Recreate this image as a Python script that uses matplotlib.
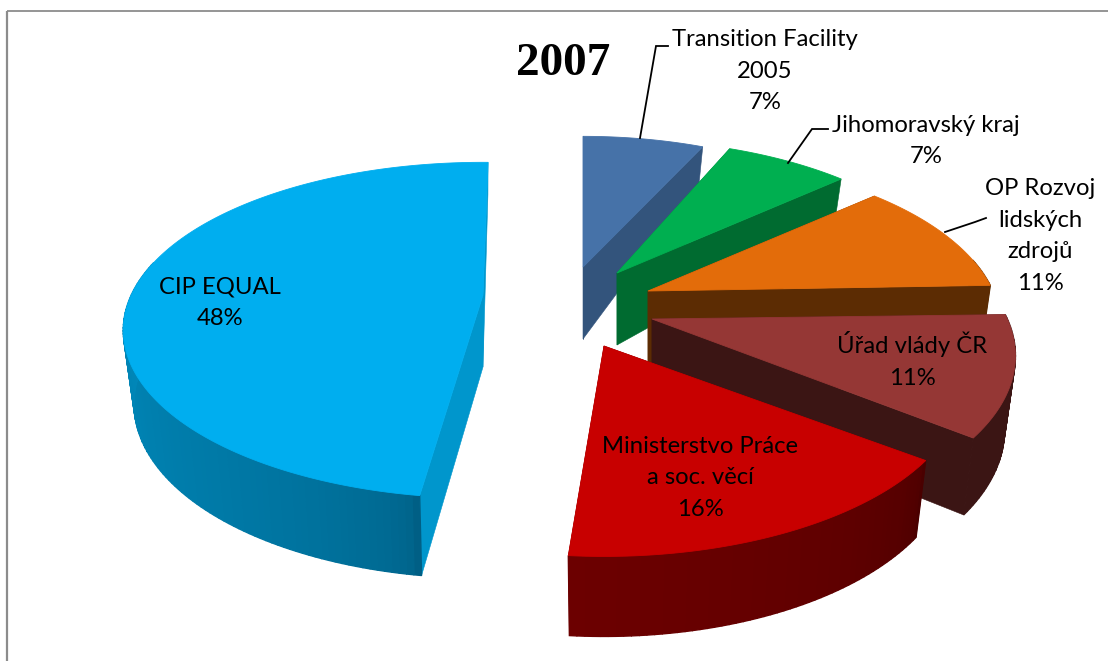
import numpy as np
import matplotlib
matplotlib.use("Agg")
import matplotlib.pyplot as plt
from matplotlib.patches import Polygon
from matplotlib.colors import to_rgb

# data
labels = ["Transition Facility\n2005\n7%", "Jihomoravský kraj\n7%", "OP Rozvoj\nlidských\nzdrojů\n11%",
          "Úřad vlády ČR\n11%", "Ministerstvo Práce\na soc. věcí\n16%", "CIP EQUAL\n48%"]
values = [7, 7, 11, 11, 16, 48]
title = "2007"

# styles / layout
top_colors = ["#4672A8", "#00AF50", "#E36C0A", "#953735", "#C80000", "#00AEEF"]
cut_colors = ["#33547C", "#006B30", "#5C2C03", "#3B1514", "#640000", "#0096CC"]
rim_start = ["#33547C", "#006B30", "#5C2C03", "#3B1514", "#4A0000", "#005F85"]
rim_end = ["#33547C", "#006B30", "#5C2C03", "#3B1514", "#6C0000", "#0098CE"]
apex = [(583, 267), (617, 273), (648, 291), (652, 319), (604, 346), (483, 295)]
slice_rot = [2.0, 0.0, 0.0, 0.5, -0.6, 3.0]
slice_scale = [0.97, 0.99, 1.0, 1.03, 1.02, 0.985]
slice_xscale = [1.0, 1.0, 1.0, 1.0, 1.0, 1.035]
label_xy = [(765, 71), (926, 141), (1040, 236), (912, 360), (700, 478), (220, 303)]
leaders = [[(640, 138), (656, 46), (668, 46)], [(788, 163), (812, 129), (828, 129)],
           [(945, 232), (975, 222), (986, 218)]]
A, B, K, ROT = 345.0, 163.0, 0.21, -2.0


def project(theta, cx, cy, scale=1.0, xscale=1.0, bottom=False):
    X, Y = np.sin(np.radians(theta)), -np.cos(np.radians(theta))
    w = 1 / (1 - K * Y)
    sx = A * scale * xscale * X * w
    sy = B * scale * Y * w
    if bottom:
        sx = sx * 0.97
        sy = sy + np.where(Y < 0, 72 + 40 * Y, 72 + 8 * Y)
    return cx + sx, cy + sy


fig = plt.figure(figsize=(11.08, 6.61), dpi=100)
ax = fig.add_axes([0, 0, 1, 1])
ax.set_xlim(0, 1108)
ax.set_ylim(661, 0)
ax.axis("off")

ax.plot([7, 7], [661, 10.5], color="#8C8C8C", lw=1.6, solid_capstyle="butt")
ax.plot([7, 1108], [10.5, 10.5], color="#8C8C8C", lw=1.3, solid_capstyle="butt")

edges = np.cumsum([0] + values) / sum(values) * 360 + ROT
for i in range(len(values)):
    t0, t1 = edges[i] + slice_rot[i], edges[i + 1] + slice_rot[i]
    cx, cy = apex[i]
    s, sxs = slice_scale[i], slice_xscale[i]
    ts = np.linspace(t0, t1, max(int(t1 - t0), 12))
    xt, yt = project(ts, cx, cy, s, sxs)
    xb, yb = project(ts, cx, cy, s, sxs, bottom=True)
    abx, aby = cx, cy + 72
    for k in (0, -1):
        ax.add_patch(Polygon([(cx, cy), (xt[k], yt[k]), (xb[k], yb[k]), (abx, aby)], closed=True,
                             facecolor=cut_colors[i], edgecolor=cut_colors[i], lw=0.4, zorder=i * 3 + 1))
    c0, c1 = np.array(to_rgb(rim_start[i])), np.array(to_rgb(rim_end[i]))
    for j in range(len(ts) - 1):
        if np.cos(np.radians(ts[j])) > 0.2:
            continue
        f = (j / (len(ts) - 2)) ** 0.45
        col = c0 + (c1 - c0) * f
        ax.add_patch(Polygon([(xt[j], yt[j]), (xt[j + 1], yt[j + 1]), (xb[j + 1], yb[j + 1]), (xb[j], yb[j])],
                             closed=True, facecolor=col, edgecolor=col, lw=1.0, zorder=i * 3 + 2))
    ax.add_patch(Polygon(np.vstack([[(cx, cy)], np.column_stack([xt, yt])]), closed=True,
                         facecolor=top_colors[i], edgecolor=top_colors[i], lw=0.6, zorder=i * 3 + 3))

for pts in leaders:
    ax.plot(*zip(*pts), color="black", lw=1.3, zorder=30, solid_joinstyle="miter")

for lab, (x, y) in zip(labels, label_xy):
    ax.text(x, y, lab, family="Lato", fontsize=17.2, ha="center", va="center", linespacing=1.62,
            color="black", zorder=40)

ax.text(563, 64, title, family="Liberation Serif", fontweight="bold", fontsize=34, ha="center", va="center",
        color="black", zorder=40)

fig.savefig("out.png", dpi=100)
